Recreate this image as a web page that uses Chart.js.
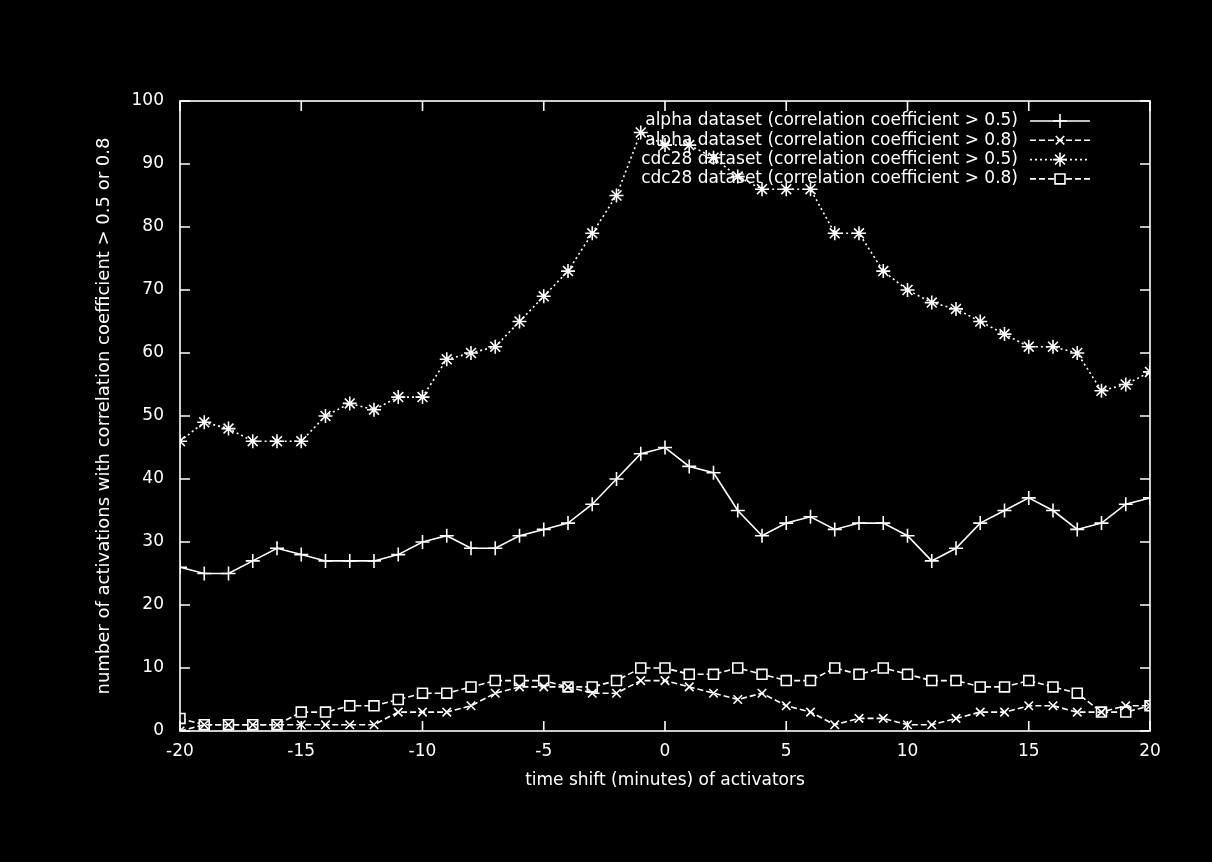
<!DOCTYPE html>
<html>
<head>
<meta charset="utf-8">
<script src="https://cdn.jsdelivr.net/npm/chart.js@4"></script>
<style>
  html, body { margin: 0; padding: 0; background: #000; }
  #wrap { width: 1212px; height: 862px; background: #000; }
</style>
</head>
<body>
<div id="wrap"><canvas id="c" width="1212" height="862"></canvas></div>
<script>
const timeShifts = [-20,-19,-18,-17,-16,-15,-14,-13,-12,-11,-10,-9,-8,-7,-6,-5,-4,-3,-2,-1,0,1,2,3,4,5,6,7,8,9,10,11,12,13,14,15,16,17,18,19,20];
const alpha05 = [26,25,25,27,29,28,27,27,27,28,30,31,29,29,31,32,33,36,40,44,45,42,41,35,31,33,34,32,33,33,31,27,29,33,35,37,35,32,33,36,37];
const alpha08 = [0,1,1,1,1,1,1,1,1,3,3,3,4,6,7,7,7,6,6,8,8,7,6,5,6,4,3,1,2,2,1,1,2,3,3,4,4,3,3,4,4];
const cdc05 = [46,49,48,46,46,46,50,52,51,53,53,59,60,61,65,69,73,79,85,95,93,93,91,88,86,86,86,79,79,73,70,68,67,65,63,61,61,60,54,55,57];
const cdc08 = [2,1,1,1,1,3,3,4,4,5,6,6,7,8,8,8,7,7,8,10,10,9,9,10,9,8,8,10,9,10,9,8,8,7,7,8,7,6,3,3,4];
const seriesLabels = [
  'alpha dataset (correlation coefficient > 0.5)',
  'alpha dataset (correlation coefficient > 0.8)',
  'cdc28 dataset (correlation coefficient > 0.5)',
  'cdc28 dataset (correlation coefficient > 0.8)'
];
const xTickValues = [-20,-15,-10,-5,0,5,10,15,20];
const yTickValues = [0,10,20,30,40,50,60,70,80,90,100];
const xTitle = 'time shift (minutes) of activators';
const yTitle = 'number of activations with correlation coefficient > 0.5 or 0.8';

const FG = '#ffffff';
const FAMILY = '"DejaVu Sans", sans-serif';
const FONT = { family: FAMILY, size: 17 };
const YTITLE_FONT = { family: FAMILY, size: 18 };

function pts(arr) { return timeShifts.map((t, i) => ({ x: t, y: arr[i] })); }

const styles = [
  { pointStyle: 'cross', pointRadius: 7, borderDash: [] },
  { pointStyle: 'crossRot', pointRadius: 6, borderDash: [6, 3] },
  { pointStyle: 'star', pointRadius: 7, borderDash: [2, 3] },
  { pointStyle: 'rect', pointRadius: 7, borderDash: [6, 3] }
];
const seriesData = [alpha05, alpha08, cdc05, cdc08];

const datasets = seriesData.map((arr, i) => ({
  label: seriesLabels[i],
  data: pts(arr),
  borderColor: FG,
  borderWidth: 1.6,
  borderDash: styles[i].borderDash,
  pointStyle: styles[i].pointStyle,
  pointRadius: styles[i].pointRadius,
  pointBorderColor: FG,
  pointBackgroundColor: '#000',
  pointBorderWidth: 1.6,
  fill: false,
  tension: 0
}));

const frameAndLegend = {
  id: 'frameAndLegend',
  afterDraw(chart) {
    const ctx = chart.ctx;
    const a = chart.chartArea;
    const xs = chart.scales.x, ys = chart.scales.y;
    ctx.save();
    ctx.strokeStyle = FG;
    ctx.lineWidth = 1.6;
    ctx.setLineDash([]);
    ctx.strokeRect(a.left, a.top, a.right - a.left, a.bottom - a.top);
    const tl = 10;
    ctx.beginPath();
    yTickValues.forEach(v => {
      const y = ys.getPixelForValue(v);
      ctx.moveTo(a.left, y); ctx.lineTo(a.left + tl, y);
      ctx.moveTo(a.right, y); ctx.lineTo(a.right - tl, y);
    });
    xTickValues.forEach(v => {
      const x = xs.getPixelForValue(v);
      ctx.moveTo(x, a.bottom); ctx.lineTo(x, a.bottom - tl);
      ctx.moveTo(x, a.top); ctx.lineTo(x, a.top + tl);
    });
    ctx.stroke();

    // legend (gnuplot style: right-aligned text, sample to the right)
    ctx.font = FONT.size + 'px ' + FONT.family;
    ctx.fillStyle = FG;
    ctx.textAlign = 'right';
    ctx.textBaseline = 'middle';
    const textRight = a.right - 132;
    const sx0 = a.right - 120, sx1 = a.right - 60;
    chart.data.datasets.forEach((ds, i) => {
      const y = a.top + 20 + i * 19.3;
      ctx.fillText(ds.label, textRight, y);
      ctx.beginPath();
      ctx.setLineDash(ds.borderDash || []);
      ctx.lineWidth = 1.6;
      ctx.moveTo(sx0, y); ctx.lineTo(sx1, y);
      ctx.stroke();
      ctx.setLineDash([]);
      ctx.fillStyle = '#000';
      Chart.helpers.drawPoint(ctx, {
        pointStyle: ds.pointStyle, radius: ds.pointRadius, borderWidth: 1.6, rotation: 0
      }, (sx0 + sx1) / 2, y);
      ctx.fillStyle = FG;
    });
    ctx.restore();
  }
};

new Chart(document.getElementById('c'), {
  type: 'line',
  data: { datasets },
  options: {
    responsive: false,
    animation: false,
    layout: { padding: { left: 90, top: 101, right: 62, bottom: 67 } },
    plugins: { legend: { display: false }, tooltip: { enabled: false } },
    scales: {
      x: {
        type: 'linear', min: -20, max: 20,
        afterBuildTicks(s) { s.ticks = xTickValues.map(v => ({ value: v })); },
        afterFit(s) { s.height = 64; },
        grid: { display: false, drawTicks: false },
        border: { display: false },
        ticks: { color: FG, font: FONT, padding: 10, maxRotation: 0, autoSkip: false },
        title: { display: true, text: xTitle, color: FG, font: FONT, padding: { top: 4, bottom: 4 } }
      },
      y: {
        type: 'linear', min: 0, max: 100,
        afterBuildTicks(s) { s.ticks = yTickValues.map(v => ({ value: v })); },
        afterFit(s) { s.width = 90; },
        grid: { display: false, drawTicks: false },
        border: { display: false },
        ticks: { color: FG, font: FONT, padding: 16, autoSkip: false },
        title: { display: true, text: yTitle, color: FG, font: YTITLE_FONT, padding: { top: 4, bottom: 4 } }
      }
    }
  },
  plugins: [frameAndLegend]
});
</script>
</body>
</html>
